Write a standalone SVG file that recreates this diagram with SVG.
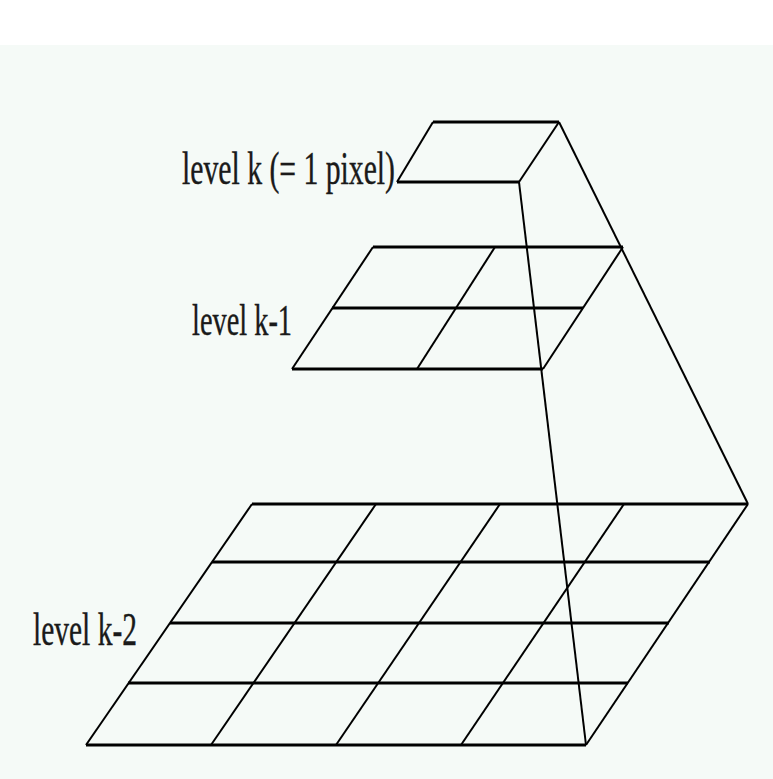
<svg xmlns="http://www.w3.org/2000/svg" width="773" height="779" viewBox="0 0 773 779">
<style>
.h{stroke:#000;stroke-width:3;fill:none}
.s{stroke:#000;stroke-width:2;fill:none}
.t{font-family:"Liberation Serif","Times New Roman",serif;fill:#1a1a1a;stroke:#1a1a1a;stroke-width:0.4}
</style>
<rect x="0" y="0" width="773" height="779" fill="#f5faf7"/>
<rect x="0" y="0" width="773" height="45" fill="#ffffff"/>
<g id="level-k">
<line class="h" x1="433" y1="122" x2="559" y2="122"/>
<line class="h" x1="397" y1="182" x2="519" y2="182"/>
<line class="s" x1="433" y1="122" x2="397" y2="182"/>
<line class="s" x1="559" y1="122" x2="519" y2="182"/>
<text class="t" x="182" y="184" font-size="47" textLength="213" lengthAdjust="spacingAndGlyphs">level k (= 1 pixel)</text>
</g>
<g id="level-k-1">
<line class="h" x1="373" y1="247" x2="623" y2="247"/>
<line class="h" x1="332" y1="308" x2="583" y2="308"/>
<line class="h" x1="292" y1="369" x2="543" y2="369"/>
<line class="s" x1="373" y1="247" x2="292" y2="369"/>
<line class="s" x1="495" y1="247" x2="417" y2="369"/>
<line class="s" x1="623" y1="247" x2="543" y2="369"/>
<text class="t" x="192" y="335" font-size="45" textLength="100" lengthAdjust="spacingAndGlyphs">level k-1</text>
</g>
<g id="level-k-2">
<line class="h" x1="252" y1="504" x2="748" y2="504"/>
<line class="h" x1="212" y1="562" x2="710" y2="562"/>
<line class="h" x1="170" y1="623" x2="669" y2="623"/>
<line class="h" x1="128" y1="683" x2="628" y2="683"/>
<line class="h" x1="86" y1="745" x2="586" y2="745"/>
<line class="s" x1="252" y1="504" x2="86" y2="745"/>
<line class="s" x1="376" y1="504" x2="211" y2="745"/>
<line class="s" x1="500" y1="504" x2="336" y2="745"/>
<line class="s" x1="624" y1="504" x2="461" y2="745"/>
<line class="s" x1="748" y1="504" x2="586" y2="745"/>
<text class="t" x="33" y="645" font-size="46" textLength="104" lengthAdjust="spacingAndGlyphs">level k-2</text>
</g>
<g id="connectors">
<line class="s" x1="519" y1="182" x2="586" y2="745"/>
<line class="s" x1="559" y1="122" x2="748" y2="504"/>
</g>
</svg>
